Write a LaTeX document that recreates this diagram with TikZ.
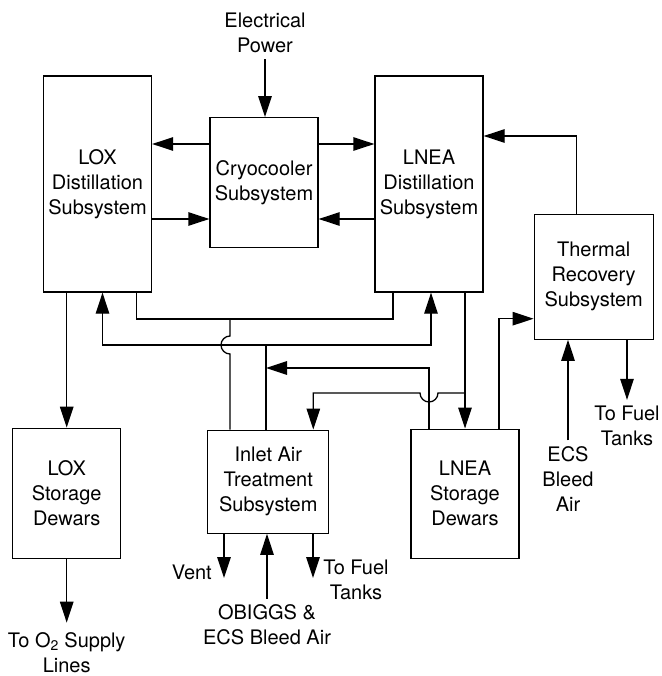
\documentclass[tikz,border=0pt]{standalone}
\usepackage{fontspec}
\setmainfont{TeX Gyre Heros}
\usetikzlibrary{arrows.meta}

\begin{document}
\begin{tikzpicture}[
  x=1pt, y=1pt,
  font=\fontsize{20}{25}\selectfont,
  unit/.style = {draw, line width=1.3pt, align=center, inner sep=0pt},
  lbl/.style  = {align=center, inner sep=6pt},
  arr/.style  = {-{Triangle[length=21pt,width=13.5pt]}, line width=1.3pt},
  lnk/.style  = {line width=1.3pt},
]
\useasboundingbox (0,0) rectangle (661,-676);

\node[unit, minimum width=108pt, minimum height=216pt] (loxd)  at (97.5,-184)    {LOX\\Distillation\\Subsystem};
\node[unit, minimum width=108pt, minimum height=130pt] (cryo)  at (264,-182.7)   {Cryocooler\\Subsystem};
\node[unit, minimum width=108pt, minimum height=216pt] (lnead) at (429,-184)     {LNEA\\Distillation\\Subsystem};
\node[unit, minimum width=119pt, minimum height=125pt] (therm) at (593.7,-276.7) {Thermal\\Recovery\\Subsystem};
\node[unit, minimum width=108pt, minimum height=130pt] (loxs)  at (66.7,-493.3)  {LOX\\Storage\\Dewars};
\node[unit, minimum width=121pt, minimum height=103pt] (inlet) at (268.3,-481.7) {Inlet Air\\Treatment\\Subsystem};
\node[unit, minimum width=108pt, minimum height=129pt] (lneas) at (465,-493.7)   {LNEA\\Storage\\Dewars};

\node[lbl] (power)  at (265,-33)   {Electrical\\Power};
\node[lbl, inner sep=2pt] (o2) at (66.7,-653) {To O\textsubscript{2} Supply\\Lines};
\node[lbl, anchor=east] (vent) at (218,-572.3) {Vent};
\node[lbl] (fuela)  at (356,-580)  {To Fuel\\Tanks};
\node[lbl] (obiggs) at (267,-625)  {OBIGGS \&\\ECS Bleed Air};
\node[lbl] (ecs)    at (568,-479)  {ECS\\Bleed\\Air};
\node[lbl] (fuelb)  at (627,-426)  {To Fuel\\Tanks};

\coordinate (ctop) at (264,-144);
\coordinate (cbot) at (264,-219);
\coordinate (rj) at (230,-319);
\coordinate (split) at (266,-345);
\coordinate (tap) at (465,-393);
\coordinate (ventend) at (224,-578);
\coordinate (fuelend) at (313,-578);

\draw[arr] (power.south) -- (power.south |- cryo.north);
\draw[arr] (cryo.west |- ctop) -- (loxd.east |- ctop);
\draw[arr] (cryo.east |- ctop) -- (lnead.west |- ctop);
\draw[arr] (loxd.east |- cbot) -- (cryo.west |- cbot);
\draw[arr] (lnead.west |- cbot) -- (cryo.east |- cbot);
\draw[arr] ([xshift=-17pt]therm.north) |- ([yshift=48pt]lnead.east);
\draw[arr] (loxd.south -| loxs.north) -- (loxs.north);
\draw[arr] (loxs.south) -- ([yshift=8pt]o2.north);
\draw[lnk] ([xshift=39pt]loxd.south) |- (rj) -| ([xshift=-36pt]lnead.south);
\draw[lnk] (rj) -- ++(0,-17) arc[start angle=90, end angle=270, radius=9pt] -- (rj |- inlet.north);
\draw[lnk] (split |- inlet.north) -- (split);
\draw[arr] (split) -| ([xshift=5pt]loxd.south);
\draw[arr] (split) -| ([xshift=2pt]lnead.south);
\draw[arr] ([xshift=-36pt]lneas.north) |- ([yshift=-23pt]split);
\draw[arr] (lnead.south -| tap) -- (tap |- lneas.north);
\draw[arr] (tap) -- ++(-27,0) arc[start angle=0, end angle=-180, radius=9pt] -| ([xshift=45pt]inlet.north);
\draw[arr] ([xshift=34pt]lneas.north) |- ([yshift=-42pt]therm.west);
\draw[arr] (ecs.north) -- (ecs.north |- therm.south);
\draw[arr] (therm.south -| fuelb.north) -- (fuelb.north);
\draw[arr] (ventend |- inlet.south) -- (ventend);
\draw[arr] (fuelend |- inlet.south) -- (fuelend);
\draw[arr] (obiggs.north) -- (obiggs.north |- inlet.south);

\end{tikzpicture}
\end{document}
